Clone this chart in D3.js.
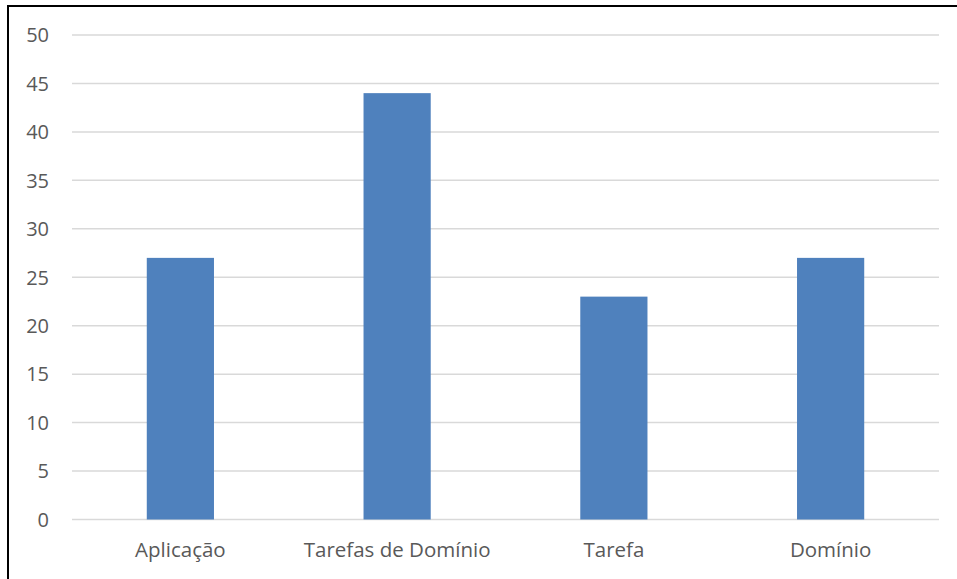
<!DOCTYPE html>
<html lang="pt">
<head>
<meta charset="UTF-8" />
<title>Chart</title>
<script src="https://d3js.org/d3.v7.min.js"></script>
<style>
  body { margin: 0; background: #fff; }
  svg { display: block; }
</style>
</head>
<body>
<div id="chart"></div>
<script>
const categories = ["Aplicação", "Tarefas de Domínio", "Tarefa", "Domínio"]
const values = [27, 44, 23, 27]
const yTicks = [0, 5, 10, 15, 20, 25, 30, 35, 40, 45, 50]

const width = 957
const height = 579
const margin = { top: 35, right: 18, bottom: 60, left: 72 }
const font = "'Open Sans', sans-serif"

const svg = d3.select("#chart").append("svg")
    .attr("width", width)
    .attr("height", height)

// outer frame (only top and left visible in the picture)
svg.append("rect")
    .attr("x", 8).attr("y", 6)
    .attr("width", width + 10).attr("height", height + 10)
    .attr("fill", "none")
    .attr("stroke", "#000")
    .attr("stroke-width", 2)

const x = d3.scaleBand()
    .domain(categories)
    .range([margin.left, width - margin.right])
    .paddingInner(0.69)
    .paddingOuter(0.345)

const y = d3.scaleLinear()
    .domain([0, 50])
    .range([519.5, 35])

// gridlines
svg.append("g")
    .selectAll("line")
    .data(yTicks)
    .join("line")
    .attr("x1", margin.left)
    .attr("x2", width - margin.right)
    .attr("y1", d => y(d))
    .attr("y2", d => y(d))
    .attr("stroke", "#d9d9d9")
    .attr("stroke-width", 1.5)

// y axis labels
const yAxis = svg.append("g")
    .attr("transform", `translate(${margin.left - 23},0)`)
    .call(d3.axisLeft(y).tickValues(yTicks).tickSize(0).tickPadding(0))
yAxis.select(".domain").remove()
yAxis.selectAll("text")
    .attr("fill", "#595959")
    .attr("font-family", font)
    .attr("font-size", 20)
    .attr("dy", "0.34em")

// bars
svg.append("g")
    .selectAll("rect")
    .data(values)
    .join("rect")
    .attr("x", (d, i) => x(categories[i]))
    .attr("y", d => y(d))
    .attr("width", x.bandwidth())
    .attr("height", d => y(0) - y(d))
    .attr("fill", "#4f81bd")

// x axis labels
const xAxis = svg.append("g")
    .attr("transform", `translate(0,557)`)
    .call(d3.axisBottom(x).tickSize(0).tickPadding(0))
xAxis.select(".domain").remove()
xAxis.selectAll("text")
    .attr("fill", "#595959")
    .attr("font-family", font)
    .attr("font-size", 20.5)
    .attr("y", 0)
    .attr("dy", 0)
</script>
</body>
</html>
